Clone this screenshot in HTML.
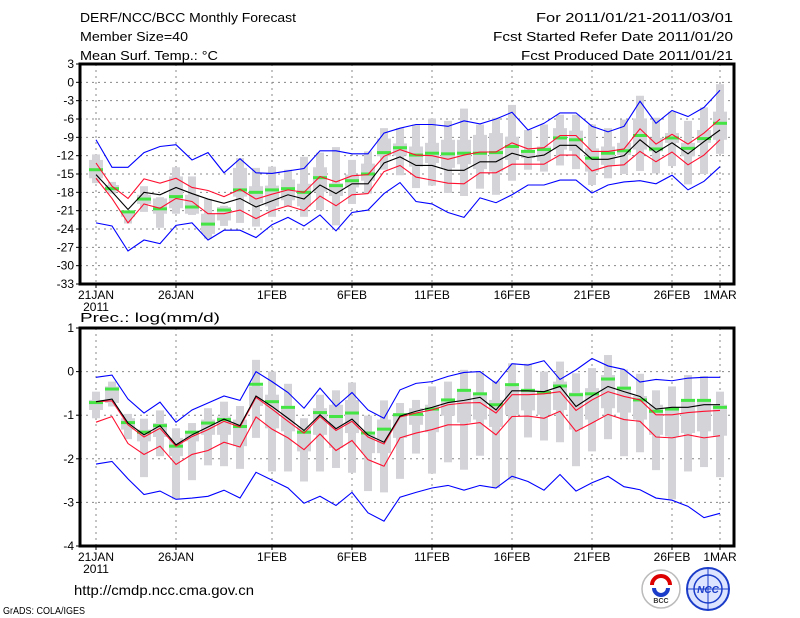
<!DOCTYPE html>
<html><head><meta charset="utf-8"><style>
html,body{margin:0;padding:0;background:#fff;}
svg{display:block;font-family:"Liberation Sans",sans-serif;}
</style></head><body>
<svg id="chart" width="800" height="618" viewBox="0 0 800 618" xmlns="http://www.w3.org/2000/svg">
<rect width="800" height="618" fill="#fff"/>
<text x="80" y="22" font-size="13" textLength="216" lengthAdjust="spacingAndGlyphs">DERF/NCC/BCC Monthly Forecast</text>
<text x="80" y="41" font-size="13" textLength="108" lengthAdjust="spacingAndGlyphs">Member Size=40</text>
<text x="80" y="60" font-size="13" textLength="138" lengthAdjust="spacingAndGlyphs">Mean Surf. Temp.: °C</text>
<text x="733" y="22" font-size="13" text-anchor="end" textLength="197" lengthAdjust="spacingAndGlyphs">For 2011/01/21-2011/03/01</text>
<text x="733" y="41" font-size="13" text-anchor="end" textLength="240" lengthAdjust="spacingAndGlyphs">Fcst Started Refer Date 2011/01/20</text>
<text x="733" y="60" font-size="13" text-anchor="end" textLength="212" lengthAdjust="spacingAndGlyphs">Fcst Produced Date 2011/01/21</text>
<text x="80" y="322" font-size="13" textLength="140" lengthAdjust="spacingAndGlyphs">Prec.: log(mm/d)</text>
<text x="74" y="595" font-size="14" textLength="180" lengthAdjust="spacingAndGlyphs">http://cmdp.ncc.cma.gov.cn</text>
<text x="3" y="614" font-size="10" textLength="82" lengthAdjust="spacingAndGlyphs">GrADS: COLA/IGES</text>
<g>
<circle cx="661" cy="589" r="19" fill="#fff" stroke="#bbb" stroke-width="1.5"/>
<path d="M652 585 a9 9 0 1 1 18 0" fill="none" stroke="#d00" stroke-width="4"/>
<path d="M654 588 a7 7 0 0 0 14 0" fill="none" stroke="#1a3cc8" stroke-width="4"/>
<text x="661" y="603" font-size="7" text-anchor="middle" font-weight="bold" fill="#333">BCC</text>
</g>
<g>
<circle cx="708" cy="589" r="21" fill="#dde4ff" stroke="#1a3cc8" stroke-width="2"/>
<circle cx="708" cy="589" r="14" fill="none" stroke="#1a3cc8" stroke-width="1.5"/>
<line x1="687" y1="589" x2="729" y2="589" stroke="#1a3cc8"/>
<line x1="708" y1="568" x2="708" y2="610" stroke="#1a3cc8"/>
<text x="708" y="593" font-size="10" text-anchor="middle" font-weight="bold" font-style="italic" fill="#1a3cc8">NCC</text>
</g>
<g id="plots"></g>
</svg>
<script>
// Shared categories
const dayLabels = ["21JAN","26JAN","1FEB","6FEB","11FEB","16FEB","21FEB","26FEB","1MAR"];
const dayLabelIdx = [0,5,11,16,21,26,31,36,39];
const nDays = 40;
// Temperature panel
const tTicks = [3,0,-3,-6,-9,-12,-15,-18,-21,-24,-27,-30,-33];
const tBlueHi = [-9.4,-13.9,-13.9,-11.5,-10.5,-10.2,-12.7,-11.5,-14.8,-12.5,-14.8,-14.9,-14.5,-14.1,-11.2,-11.2,-11.7,-11.7,-8.3,-7.5,-6.9,-6.9,-7.2,-6.3,-6.8,-6.0,-4.9,-7.8,-6.7,-5.0,-5.0,-7.2,-8.1,-7.2,-3.1,-6.7,-4.6,-5.6,-4.1,-1.3];
const tRedHi = [-13.2,-17,-19,-15.8,-16.5,-15.7,-17.2,-17.7,-18.7,-17.5,-19.1,-18.3,-17.6,-18,-15.4,-16.3,-15.3,-15.1,-12.1,-11,-11.9,-12,-12.6,-11.9,-11.4,-11.4,-9.9,-10.9,-10.7,-8.7,-8.7,-11.3,-11.3,-10.9,-7.6,-10.1,-8.5,-10.1,-8.3,-6];
const tMean = [-15.1,-17.9,-20.8,-18,-18.4,-17.2,-18.2,-19.1,-19.8,-19,-20.4,-19.4,-18.4,-19.1,-16.8,-18.2,-16.6,-16.6,-13.2,-12.2,-13.6,-13.6,-14.4,-14.4,-13,-13,-11.6,-12.3,-11.9,-10.3,-10.3,-12.6,-12.6,-12,-9.4,-11.5,-9.9,-11.7,-9.7,-7.8];
const tRedLo = [-15.7,-19,-23,-19.9,-20.6,-19,-19.5,-21.5,-21.5,-20.9,-22.3,-21,-20.2,-21,-18.6,-20.2,-18.4,-18.2,-14.6,-13.6,-15.5,-16,-16.5,-16.6,-14.8,-14.8,-13.4,-13.4,-13.4,-11.9,-11.9,-14.5,-13.7,-13.5,-11.3,-13,-11.4,-13.5,-11.9,-9.4];
const tBlueLo = [-23,-23.5,-27.6,-25.8,-26.4,-23.4,-23,-25.8,-24.2,-24.2,-25.4,-23.3,-22.1,-23.5,-21.7,-24.3,-21.3,-20.9,-18.2,-16.4,-19.5,-19.9,-21.3,-22.1,-18.9,-19.7,-18.4,-16.8,-16.8,-16,-16,-18.1,-16.8,-16.3,-16.1,-16.6,-15.2,-17.6,-16.2,-13.8];
const tObs = [-14.3,-17.4,-21.2,-19.1,-20.7,-18.7,-20.4,-23.2,-20.9,-17.6,-18,-17.6,-17.4,-18,-15.6,-16.9,-16.1,-15,-11.5,-10.7,-11.9,-11.6,-11.7,-11.6,-11.6,-11.5,-10.5,-11.3,-11,-9.1,-9.4,-12.4,-11.6,-11.2,-8.7,-10.9,-9.1,-10.8,-9.2,-6.7];
const tMax = [-11.8,-16.3,-21.2,-17,-18.8,-13.9,-15.4,-19.1,-20.2,-12.4,-14,-13.8,-14.3,-12.2,-11.5,-10.6,-12.7,-11.3,-7.5,-7.5,-6.9,-5.9,-6.3,-4.3,-6.9,-5.8,-3.7,-7.8,-6.9,-5.3,-5.3,-6.9,-7.5,-6.1,-2.2,-5.8,-4.8,-6.3,-4.1,-0.3];
const tQ3 = [-12.7,-16.8,-21.2,-18.4,-19,-15.4,-18.4,-21.5,-20.4,-14,-17,-16.9,-15.9,-16.6,-13.9,-16.5,-15.1,-13.3,-9.2,-10,-10.5,-9.9,-9.4,-9.4,-8.6,-8.3,-8.9,-11.2,-10.5,-7.5,-7.9,-10.8,-10.5,-9.9,-5.9,-9.1,-8.3,-9.9,-7.8,-4.8];
const tQ1 = [-15.7,-17.8,-22,-19.9,-21.5,-20.6,-21.5,-24.8,-22.6,-18.7,-19.8,-20.3,-19.3,-20.3,-17.9,-18.6,-17.2,-16.1,-12.1,-12,-13.8,-13.2,-14,-13.4,-14.2,-14.6,-12.7,-12.4,-12.9,-11,-11.2,-14.6,-13.5,-11.9,-11,-11.3,-9.9,-12.1,-9.9,-9.4];
const tMin = [-16.5,-18.2,-23.1,-21.2,-23.8,-21.5,-21.7,-25.6,-23.5,-23,-23.6,-22,-20.4,-22,-20.9,-23.4,-19.9,-18.2,-14.3,-15.2,-17.3,-16.9,-18.1,-18.6,-17.4,-18.4,-16.1,-14.3,-14.6,-13.6,-14.2,-16.8,-15.7,-15,-14.5,-14.9,-13.7,-16.7,-15,-11.7];
// Precipitation panel
const bTicks = [1,0,-1,-2,-3,-4];
const bBlueHi = [-0.13,-0.08,-0.63,-0.95,-0.7,-1.16,-0.88,-0.72,-0.56,-0.66,0,-0.23,-0.48,-0.84,-0.38,-0.8,-0.48,-0.88,-1.07,-0.42,-0.27,-0.23,-0.11,-0.02,0,-0.27,0.18,0.15,0.25,-0.18,0.04,0.3,0.13,0.05,-0.24,-0.18,-0.21,-0.15,-0.13,-0.13];
const bRedHi = [-0.69,-0.67,-1.22,-1.5,-1.3,-1.71,-1.49,-1.33,-1.14,-1.27,-0.59,-0.86,-1.14,-1.41,-1.03,-1.35,-1.14,-1.5,-1.66,-1.04,-0.95,-0.88,-0.76,-0.72,-0.71,-0.95,-0.53,-0.53,-0.51,-0.46,-0.89,-0.65,-0.46,-0.57,-0.65,-0.99,-0.99,-0.94,-0.91,-0.89];
const bMean = [-0.69,-0.63,-1.18,-1.45,-1.24,-1.68,-1.45,-1.27,-1.09,-1.24,-0.56,-0.8,-1.07,-1.35,-0.99,-1.31,-1.09,-1.45,-1.62,-1.02,-0.91,-0.82,-0.71,-0.66,-0.59,-0.88,-0.44,-0.44,-0.46,-0.34,-0.8,-0.56,-0.34,-0.46,-0.57,-0.86,-0.82,-0.82,-0.76,-0.76];
const bRedLo = [-1.16,-1.03,-1.65,-1.9,-1.71,-2.13,-1.9,-1.81,-1.62,-1.73,-1.04,-1.32,-1.52,-1.79,-1.43,-1.81,-1.58,-2.02,-2.17,-1.52,-1.41,-1.33,-1.22,-1.22,-1.17,-1.45,-1.03,-1.02,-1.07,-0.91,-1.37,-1.18,-0.98,-1.1,-1.14,-1.5,-1.52,-1.45,-1.52,-1.47];
const bBlueLo = [-2.12,-2.06,-2.46,-2.82,-2.74,-2.93,-2.9,-2.86,-2.72,-2.9,-2.31,-2.49,-2.67,-3.02,-2.86,-3.07,-2.77,-3.24,-3.43,-2.88,-2.77,-2.67,-2.61,-2.72,-2.61,-2.67,-2.4,-2.52,-2.72,-2.36,-2.74,-2.55,-2.4,-2.64,-2.71,-2.9,-2.95,-3.09,-3.35,-3.25];
const bObs = [-0.71,-0.4,-1.17,-1.39,-1.24,-1.71,-1.39,-1.18,-1.1,-1.26,-0.29,-0.69,-0.82,-1.39,-0.94,-1.03,-0.95,-1.41,-1.32,-0.99,-0.98,-0.86,-0.65,-0.43,-0.51,-0.76,-0.3,-0.43,-0.48,-0.33,-0.53,-0.51,-0.17,-0.38,-0.65,-0.91,-0.86,-0.66,-0.66,-0.82];
const bMax = [-0.46,-0.23,-0.97,-1.08,-0.89,-1.3,-1.18,-0.84,-0.69,-0.79,0.27,0,-0.28,-1.07,-0.53,-0.43,-0.25,-1.01,-0.66,-0.72,-0.65,-0.34,-0.23,0.04,-0.02,-0.21,0.19,0.18,0,0.23,-0.04,0.08,0.38,0.05,-0.05,-0.43,-0.34,-0.08,-0.1,-0.46];
const bQ3 = [-0.65,-0.34,-1.07,-1.33,-1.18,-1.52,-1.37,-1.1,-1.03,-1.1,-0.34,-0.53,-0.8,-1.26,-0.84,-0.76,-0.65,-1.45,-1.1,-0.95,-0.84,-0.76,-0.69,-0.46,-0.53,-0.65,-0.34,-0.42,-0.48,-0.23,-0.48,-0.38,-0.08,-0.34,-0.56,-0.76,-0.82,-0.65,-0.65,-0.76];
const bQ1 = [-0.88,-0.72,-1.33,-1.6,-1.5,-1.94,-1.6,-1.45,-1.45,-1.71,-0.79,-1.3,-1.37,-1.83,-1.45,-1.75,-1.41,-1.87,-1.87,-1.52,-1.22,-1.39,-1.01,-1.17,-1.1,-1.27,-0.99,-0.89,-0.99,-0.88,-1.33,-1.1,-0.84,-0.94,-1.1,-1.45,-1.49,-1.41,-1.37,-1.47];
const bMin = [-1.07,-0.8,-1.55,-2.42,-1.94,-2.93,-2.49,-2.15,-2.17,-2.23,-1.52,-2.29,-2.29,-2.52,-2.29,-2.21,-2.32,-2.74,-2.77,-2.46,-1.88,-2.34,-2.08,-2.25,-1.93,-2.67,-2.48,-1.51,-1.58,-1.62,-2.17,-1.83,-1.55,-1.94,-1.85,-2.26,-2.93,-2.29,-2.19,-2.42];

const NS = "http://www.w3.org/2000/svg";
const root = document.getElementById("plots");
const X0 = 80, X1 = 734;
function xS(i){ return 96 + i * (720 - 96) / (nDays - 1); }
function mk(tag, attrs, parent){
  const e = document.createElementNS(NS, tag);
  for (const k in attrs) e.setAttribute(k, attrs[k]);
  (parent || root).appendChild(e);
  return e;
}
function panel(name, top, bot, vmax, vmin, ticks, s){
  const yS = v => top + (vmax - v) * (bot - top) / (vmax - vmin);
  const g = mk("g", {});
  
  
  ticks.forEach(t => {
    const y = yS(t);
    if (t !== vmax && t !== vmin) {
      const l = mk("line", {x1:X0, x2:X1, y1:y, y2:y, stroke:"#888", "stroke-dasharray":"2,4", "stroke-width":1}, g);
      
      
    }
    mk("line", {x1:X0-4, x2:X0, y1:y, y2:y, stroke:"#000"}, g);
    const tx = mk("text", {x:X0-6, y:y+4, "font-size":12, "text-anchor":"end"}, g);
    
    
    tx.textContent = t;
  });
  dayLabelIdx.forEach((d, k) => {
    const x = xS(d);
    const l = mk("line", {x1:x, x2:x, y1:top, y2:bot, stroke:"#888", "stroke-dasharray":"2,4"}, g);
    
    
    mk("line", {x1:x, x2:x, y1:bot, y2:bot+4, stroke:"#000"}, g);
    const tx = mk("text", {x:x, y:bot+15, "font-size":12, "text-anchor":"middle"}, g);
    
    
    tx.textContent = dayLabels[k];
  });
  const yr = mk("text", {x:xS(0), y:bot+27, "font-size":12, "text-anchor":"middle"}, g);
  
  
  yr.textContent = "2011";
  for (let i = 0; i < nDays; i++) {
    const x = xS(i);
    const w = mk("rect", {x:x-4, y:yS(s.max[i]), width:8, height:Math.max(1, yS(s.min[i]) - yS(s.max[i])), fill:"#d3d3d8"}, g);
    
    
    const b = mk("rect", {x:x-7, y:yS(s.q3[i]), width:14, height:Math.max(1, yS(s.q1[i]) - yS(s.q3[i])), fill:"#d3d3d8"}, g);
    
    
  }
  for (let i = 0; i < nDays; i++) {
    const o = mk("rect", {x:xS(i)-7, y:yS(s.obs[i])-1.5, width:14, height:3, fill:"#44e444"}, g);
    
    
  }
  const lines = [[s.blueHi,"#0000ff","upper-bound-line"],[s.blueLo,"#0000ff","lower-bound-line"],
                 [s.redHi,"#ff1030","upper-percentile-line"],[s.redLo,"#ff1030","lower-percentile-line"],
                 [s.mean,"#000","ensemble-mean-line"]];
  lines.forEach(([arr, col, nm]) => {
    const p = mk("polyline", {points: arr.map((v,i)=>xS(i)+","+yS(v)).join(" "), fill:"none", stroke:col, "stroke-width":1.1}, g);
    
    
  });
  const f = mk("rect", {x:X0, y:top, width:X1-X0, height:bot-top, fill:"none", stroke:"#000", "stroke-width":3}, g);
  
  
}
panel("temperature-panel", 64, 284, 3, -33, tTicks,
  {blueHi:tBlueHi, redHi:tRedHi, mean:tMean, redLo:tRedLo, blueLo:tBlueLo, obs:tObs, max:tMax, q3:tQ3, q1:tQ1, min:tMin});
panel("precipitation-panel", 328, 546, 1, -4, bTicks,
  {blueHi:bBlueHi, redHi:bRedHi, mean:bMean, redLo:bRedLo, blueLo:bBlueLo, obs:bObs, max:bMax, q3:bQ3, q1:bQ1, min:bMin});
</script>
</body></html>
